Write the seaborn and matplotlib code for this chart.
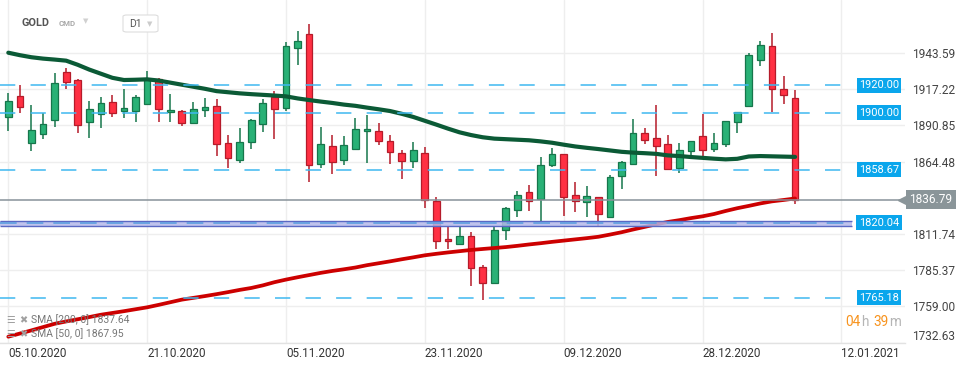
import numpy as np
import pandas as pd
import matplotlib
matplotlib.use("Agg")
import matplotlib.pyplot as plt
import matplotlib.transforms as mtransforms
import seaborn as sns

# -----------------------------
# DATA
# -----------------------------

opens = [1897.2, 1912.3, 1877.8, 1884.3, 1894.5, 1929.5, 1923.9, 1893.1, 1899.2, 1907.7,
         1901.1, 1901.1, 1906.2, 1924.6, 1900.4, 1901.3, 1892.3, 1901.8, 1904.7, 1877.8,
         1865.4, 1878.5, 1891.6, 1911.8, 1903.3, 1947.0, 1957.2, 1862.5, 1875.8, 1865.4,
         1873.4, 1886.5, 1886.5, 1879.2, 1870.5, 1864.7, 1870.5, 1836.0, 1807.9, 1804.2,
         1810.0, 1787.5, 1775.8, 1814.4, 1829.0, 1842.1, 1837.0, 1861.8, 1869.8, 1839.9,
         1834.8, 1838.4, 1823.9, 1853.7, 1862.5, 1885.1, 1881.4, 1877.1, 1860.1, 1871.9,
         1882.9, 1873.4, 1877.1, 1893.1, 1904.7, 1938.2, 1948.4, 1917.1, 1910.6]
highs = [1914.7, 1920.3, 1905.7, 1899.6, 1929.3, 1932.4, 1924.6, 1908.6, 1911.8, 1913.0,
         1917.4, 1913.0, 1930.5, 1925.6, 1913.7, 1902.1, 1908.1, 1910.8, 1910.1, 1883.9,
         1888.9, 1895.5, 1910.1, 1915.9, 1951.4, 1959.6, 1964.7, 1889.7, 1883.9, 1883.1,
         1896.5, 1898.4, 1892.4, 1883.9, 1872.9, 1878.8, 1875.1, 1838.5, 1816.8, 1816.8,
         1813.2, 1789.2, 1816.8, 1831.6, 1843.1, 1847.4, 1867.8, 1874.4, 1870.2, 1849.6,
         1846.7, 1838.8, 1854.5, 1864.7, 1895.3, 1888.7, 1905.7, 1883.9, 1878.0, 1879.5,
         1899.1, 1885.3, 1894.1, 1900.7, 1943.3, 1952.1, 1957.9, 1926.6, 1916.6]
lows = [1887.0, 1900.1, 1872.4, 1881.2, 1889.9, 1917.6, 1885.6, 1881.9, 1889.2, 1897.2,
        1896.5, 1893.6, 1905.5, 1893.6, 1893.6, 1890.7, 1892.0, 1897.2, 1868.6, 1859.6,
        1863.7, 1873.4, 1886.3, 1881.2, 1901.6, 1935.0, 1849.9, 1860.1, 1855.7, 1862.3,
        1873.0, 1863.7, 1876.8, 1863.0, 1852.0, 1860.1, 1830.9, 1800.6, 1800.6, 1803.8,
        1773.9, 1763.7, 1775.5, 1807.1, 1823.9, 1828.7, 1821.4, 1860.3, 1825.1, 1828.0,
        1823.9, 1817.8, 1823.5, 1844.3, 1861.8, 1877.0, 1854.3, 1858.6, 1856.4, 1868.3,
        1868.3, 1871.2, 1875.4, 1885.1, 1904.4, 1933.9, 1900.4, 1906.2, 1833.3]
closes = [1908.6, 1904.5, 1887.5, 1891.6, 1921.5, 1922.2, 1890.9, 1902.6, 1906.9, 1899.6,
          1903.3, 1911.3, 1924.6, 1902.6, 1902.1, 1892.3, 1902.6, 1904.0, 1877.0, 1867.1,
          1878.5, 1894.8, 1906.9, 1902.6, 1948.7, 1952.1, 1861.8, 1877.1, 1864.0, 1876.6,
          1888.0, 1888.2, 1879.2, 1871.2, 1864.7, 1872.7, 1836.3, 1806.4, 1806.4, 1810.0,
          1786.7, 1775.8, 1814.4, 1830.4, 1839.9, 1835.5, 1861.8, 1869.8, 1838.4, 1835.5,
          1839.2, 1826.1, 1853.0, 1863.9, 1885.1, 1880.0, 1875.6, 1859.3, 1872.7, 1879.2,
          1872.7, 1877.8, 1893.8, 1900.4, 1941.9, 1949.2, 1917.1, 1912.7, 1836.8]

sma50 = [1943.8, 1942.0, 1940.5, 1939.5, 1938.8, 1938.0, 1935.0, 1931.5, 1928.5, 1925.5,
         1923.9, 1924.1, 1924.4, 1923.5, 1922.0, 1920.5, 1919.0, 1917.5, 1915.8, 1915.0,
         1914.2, 1913.6, 1913.1, 1912.6, 1912.0, 1910.5, 1909.3, 1908.2, 1907.2, 1906.0,
         1905.1, 1903.8, 1902.6, 1901.3, 1899.3, 1897.0, 1894.2, 1891.4, 1888.5, 1885.8,
         1883.8, 1882.2, 1881.2, 1880.8, 1880.4, 1880.0, 1879.2, 1878.2, 1876.8, 1875.5,
         1874.5, 1873.6, 1872.6, 1871.6, 1871.0, 1870.6, 1870.1, 1869.0, 1868.5, 1867.8,
         1867.2, 1866.6, 1866.1, 1866.5, 1868.2, 1868.5, 1868.3, 1868.1, 1867.9]
sma200 = [1736.9, 1739.2, 1741.5, 1743.9, 1746.3, 1748.0, 1749.6, 1751.2, 1752.9, 1754.2,
          1755.5, 1756.9, 1758.3, 1760.1, 1762.0, 1763.9, 1765.2, 1766.5, 1767.9, 1769.4,
          1771.0, 1772.4, 1774.3, 1776.6, 1778.5, 1780.2, 1781.8, 1783.4, 1784.8, 1786.0,
          1787.3, 1789.0, 1790.4, 1791.8, 1793.3, 1794.7, 1796.2, 1797.3, 1798.3, 1799.2,
          1800.1, 1800.8, 1801.5, 1802.2, 1803.1, 1804.1, 1805.0, 1806.0, 1806.9, 1807.8,
          1808.7, 1809.7, 1811.3, 1813.0, 1815.0, 1816.9, 1818.8, 1820.5, 1821.8, 1823.3,
          1824.6, 1826.3, 1828.5, 1830.5, 1832.2, 1834.0, 1835.5, 1836.5, 1837.6]

levels = [1920.00, 1900.00, 1858.67, 1765.18]
zone = [1817.2, 1821.3]
zone_level = 1820.04
last_price = 1836.79

ytick_vals = [1732.63, 1759.00, 1785.37, 1811.74, 1864.48, 1890.85, 1917.22, 1943.59]
xtick_pos = [0, 12, 24, 36, 48, 60, 72]
xtick_labels = ["05.10.2020", "21.10.2020", "05.11.2020", "23.11.2020",
                "09.12.2020", "28.12.2020", "12.01.2021"]

# -----------------------------
# STYLE
# -----------------------------

sns.set_theme(style="white")
plt.rcParams["font.family"] = ["Roboto", "DejaVu Sans"]

W, H = 971, 367
fig = plt.figure(figsize=(W / 100, H / 100), dpi=100)
ax = fig.add_axes([0, 1 - 342.6 / H, 905 / W, 342.6 / H])

def px(x, y):
    return x / W, 1 - y / H

df = pd.DataFrame({"o": opens, "h": highs, "l": lows, "c": closes,
                   "sma50": sma50, "sma200": sma200})
df["idx"] = np.arange(len(df))
up = df["c"] >= df["o"]

GREEN, GREEN_E = "#29b176", "#16764b"
RED, RED_E = "#ff3043", "#b51b2a"

xlim = (-0.717, 77.5)
ylim = (1732.6, 1982.2)
ax.set_xlim(*xlim)
ax.set_ylim(*ylim)

# grid
for v in ytick_vals:
    ax.axhline(v, color="#eeeeee", lw=1.0, zorder=0)
for v in xtick_pos:
    ax.axvline(v, color="#eeeeee", lw=1.0, zorder=0)

# -----------------------------
# CANDLES
# -----------------------------

edge = np.where(up, GREEN_E, RED_E)
fill = np.where(up, GREEN, RED)
ax.vlines(df["idx"], df["l"], df["h"], colors=edge, lw=1.1, zorder=2)
body_lo = np.minimum(df["o"], df["c"])
body_h = np.maximum(np.abs(df["c"] - df["o"]), 0.8)
ax.bar(df["idx"], body_h, bottom=body_lo, width=0.58, color=fill,
       edgecolor=edge, linewidth=0.9, zorder=3)

# moving averages
sns.lineplot(data=df, x="idx", y="sma200", ax=ax, color="#cc0000", lw=2.7, zorder=4)
sns.lineplot(data=df, x="idx", y="sma50", ax=ax, color="#0b5a36", lw=3.0, zorder=4)

# -----------------------------
# LEVELS
# -----------------------------

x_end = xlim[0] + (xlim[1] - xlim[0]) * 852 / 905
lab_x = 879 / 905
btrans = mtransforms.blended_transform_factory(ax.transAxes, ax.transData)

ax.fill_between([xlim[0], x_end], zone[0], zone[1], color="#b4b9ea",
                alpha=0.85, lw=0, zorder=5)
ax.hlines(zone, xlim[0], x_end, colors="#5a68c4", lw=1.0, zorder=5)
ax.hlines(zone_level, xlim[0], x_end, colors="#5b9ee0", lw=1.2,
          linestyles=(0, (10, 6)), zorder=6)

for lv in levels:
    ax.hlines(lv, xlim[0], x_end, colors="#3fb8f0", lw=1.1,
              linestyles=(0, (10, 10)), zorder=6)

for lv in levels + [zone_level]:
    ax.text(lab_x, lv, f"{lv:.2f}", transform=btrans, ha="center", va="center",
            color="white", fontsize=7.9, zorder=10, clip_on=False,
            bbox=dict(boxstyle="square,pad=0.22", fc="#0aa6ec", ec="none"))

# last price
ax.axhline(last_price, color="#87929a", lw=1.1, zorder=6)
ax.text(931 / 905, last_price, f"{last_price:.2f}", transform=btrans, ha="center",
        va="center", color="white", fontsize=8.6, zorder=10, clip_on=False,
        bbox=dict(boxstyle="square,pad=0.25", fc="#8a9599", ec="none"))
ax.plot([903 / 905], [last_price], transform=btrans, marker="<", ms=7.5,
        color="#8a9599", clip_on=False, zorder=10)

# -----------------------------
# AXES
# -----------------------------

ax.yaxis.tick_right()
ax.set_yticks(ytick_vals)
ax.set_yticklabels([f"{v:.2f}" for v in ytick_vals])
ax.tick_params(axis="y", length=0, pad=5, labelsize=8.6, labelcolor="#444444")
ax.get_yticklabels()[0].set_va("bottom")

ax.set_xticks(xtick_pos)
ax.set_xticklabels(xtick_labels, ha="left")
ax.tick_params(axis="x", length=0, pad=3, labelsize=8.4, labelcolor="#333333")
ax.set_xlabel("")
ax.set_ylabel("")
ax.grid(False)

for s in ["top", "right", "left"]:
    ax.spines[s].set_visible(False)
ax.spines["bottom"].set_color("#e2e2e2")
ax.spines["bottom"].set_linewidth(1.0)

# -----------------------------
# HEADER / LEGEND / COUNTDOWN
# -----------------------------

fig.text(*px(21, 23), "GOLD", fontsize=7.8, fontweight="bold", color="#555555", va="center")
fig.text(*px(59, 23), "CMD", fontsize=5.6, fontweight="bold", color="#a8a8a8", va="center")
fig.text(*px(83, 21), "▼", fontsize=5, color="#d0d0d0", va="center", family=["DejaVu Sans"])
hdr = plt.matplotlib.patches.FancyBboxPatch(
    px(123, 32), 35 / W, 17 / H, boxstyle="round,pad=0,rounding_size=0.004",
    transform=fig.transFigure, fc="white", ec="#dddddd", lw=0.8, zorder=20)
fig.patches.append(hdr)
fig.text(*px(129, 24), "D1", fontsize=7.5, color="#555555", va="center", zorder=21)
fig.text(*px(147, 24), "▼", fontsize=5, color="#cccccc", va="center", zorder=21,
         family=["DejaVu Sans"])

leg_rows = [("SMA [200, 0] 1837.64", 320), ("SMA [50, 0] 1867.95", 334)]
for txt, yy in leg_rows:
    fig.text(*px(6, yy), "☰", fontsize=7, color="#a0a0a0", va="center",
             family=["DejaVu Sans"], zorder=20)
    fig.text(*px(19, yy), "✖", fontsize=7, color="#a0a0a0", va="center",
             family=["DejaVu Sans"], zorder=20)
    fig.text(*px(31, yy), txt, fontsize=7.5, color="#777777", va="center", zorder=20)

for txt, xx, col in [("04", 845, "#f7931e"), ("h", 861, "#b5b5b5"),
                     ("39", 873, "#f7931e"), ("m", 889, "#b5b5b5")]:
    fig.text(*px(xx, 322), txt, fontsize=9.8, color=col, va="center")

fig.savefig("out.png", dpi=100)
